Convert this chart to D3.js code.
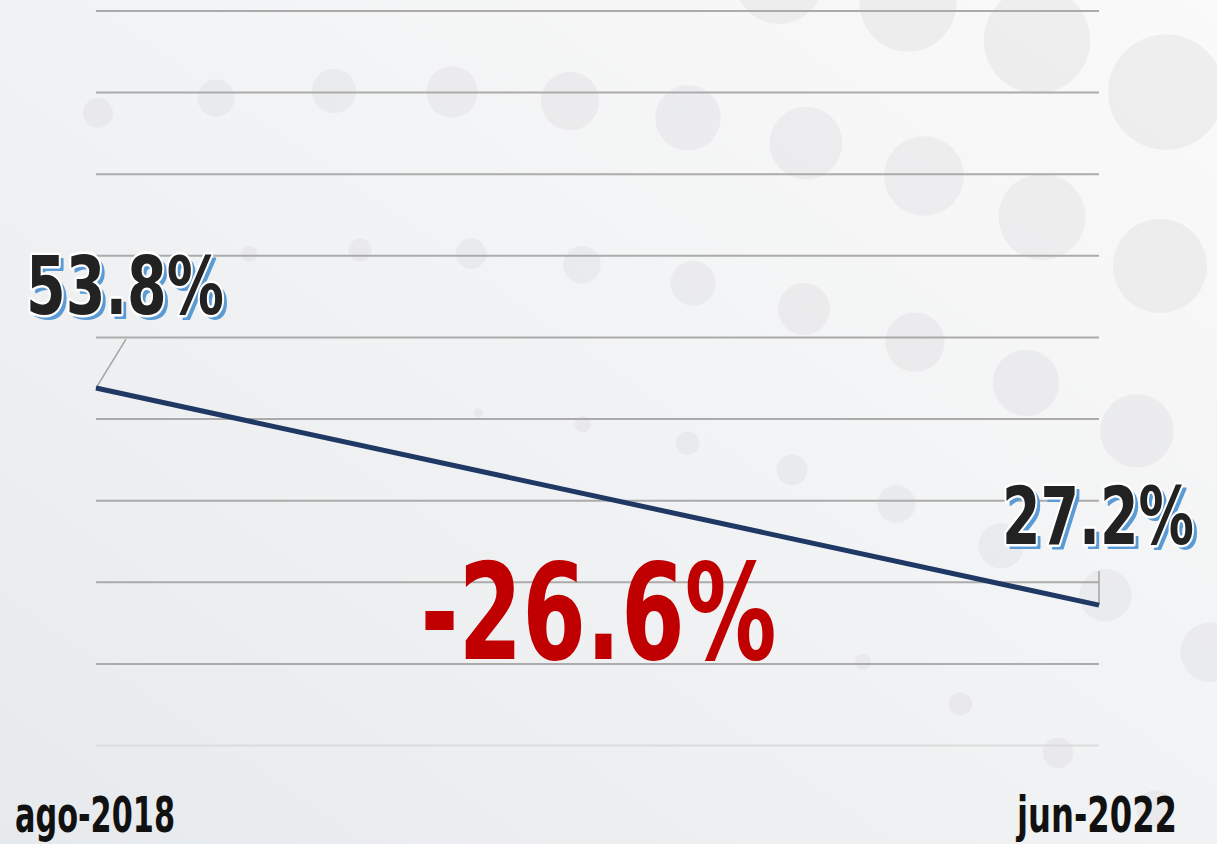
<!DOCTYPE html>
<html>
<head>
<meta charset="utf-8">
<script src="https://cdn.jsdelivr.net/npm/d3@7"></script>
<style>
  html, body { margin: 0; padding: 0; overflow: hidden; }
  svg { display: block; }
</style>
</head>
<body>
<div id="chart"></div>
<script>
'use strict'

// data
const periods = ['ago-2018', 'jun-2022']
const values = [53.8, 27.2]
const gridValues = [10, 20, 30, 40, 50, 60, 70, 80, 90, 100]

const width = 1217
const height = 844
const font = "'Liberation Sans Narrow', 'DejaVu Sans Condensed', 'Roboto', sans-serif"

const svg = d3.select('#chart')
  .append('svg')
  .attr('width', width)
  .attr('height', height)

// background gradient
const defs = svg.append('defs')
const grad = defs.append('linearGradient')
  .attr('id', 'bg')
  .attr('x1', '0').attr('y1', '1')
  .attr('x2', '1').attr('y2', '0')
grad.append('stop').attr('offset', '0%').attr('stop-color', '#e7eaed')
grad.append('stop').attr('offset', '60%').attr('stop-color', '#f3f4f5')
grad.append('stop').attr('offset', '100%').attr('stop-color', '#fafafa')

svg.append('rect')
  .attr('width', width)
  .attr('height', height)
  .attr('fill', 'url(#bg)')

// decorative dots, rows of growing circles
const dotRows = [
  { x0: 779, dx: 129, y0: -20, a: 15.8, b: 7.2, r0: 44, dr: 4.6, n: 4, i0: 0 },
  { x0: 98, dx: 118, y0: 113, a: -19, b: 4, r0: 15, dr: 3.55, n: 10, i0: -1 },
  { x0: 249, dx: 111, y0: 254, a: -7.5, b: 3.7, r0: 8, dr: 3.6, n: 9, i0: 0 },
  { x0: 374, dx: 104.5, y0: 409, a: 0, b: 3.8, r0: 1, dr: 3.6, n: 9, i0: 0 },
  { x0: 863, dx: 97.5, y0: 662, a: 38.5, b: 3.5, r0: 8, dr: 3.6, n: 4, i0: 0 }
]
const dots = []
dotRows.forEach(row => {
  for (let i = row.i0; i < row.n; i++) {
    dots.push({
      x: row.x0 + i * row.dx,
      y: row.y0 + row.a * i + row.b * i * i,
      r: Math.max(1, row.r0 + row.dr * i)
    })
  }
})

svg.append('g')
  .selectAll('circle')
  .data(dots)
  .join('circle')
  .attr('cx', d => d.x)
  .attr('cy', d => d.y)
  .attr('r', d => d.r)
  .attr('fill', '#d9dadd')
  .attr('fill-opacity', 0.35)

// scales
const x = d3.scalePoint()
  .domain(periods)
  .range([96, 1099])

const y = d3.scaleLinear()
  .domain([10, 100])
  .range([745.5, 11])

// grid lines
svg.append('g')
  .selectAll('line')
  .data(gridValues)
  .join('line')
  .attr('x1', x.range()[0])
  .attr('x2', x.range()[1])
  .attr('y1', d => y(d))
  .attr('y2', d => y(d))
  .attr('stroke', d => d === 10 ? '#dcdcdc' : '#ababab')
  .attr('stroke-width', 2)

// connectors from labels to the points
const p0 = [x(periods[0]), y(values[0])]
const p1 = [x(periods[1]), y(values[1])]

svg.append('line')
  .attr('x1', p0[0]).attr('y1', p0[1])
  .attr('x2', p0[0] + 30).attr('y2', p0[1] - 49)
  .attr('stroke', '#a3a3a3')
  .attr('stroke-width', 1.5)

svg.append('line')
  .attr('x1', p1[0]).attr('y1', p1[1])
  .attr('x2', p1[0]).attr('y2', p1[1] - 34)
  .attr('stroke', '#a3a3a3')
  .attr('stroke-width', 1.5)

// the line itself
const line = d3.line()
  .x((d, i) => x(periods[i]))
  .y(d => y(d))

svg.append('path')
  .datum(values)
  .attr('d', line)
  .attr('fill', 'none')
  .attr('stroke', '#1f3864')
  .attr('stroke-width', 5)

// value labels with outline + blue shadow
const fmt = d => d3.format('.1f')(d).replace('\u2212', '-') + '%'
const valueLabels = [
  { text: fmt(values[0]), x: p0[0] - 70, y: p0[1] - 74, len: 198 },
  { text: fmt(values[1]), x: p1[0] - 97, y: p1[1] - 61, len: 192 }
]

valueLabels.forEach(l => {
  const g = svg.append('g')
  g.append('text')
    .attr('x', l.x + 4)
    .attr('y', l.y + 4)
    .attr('textLength', l.len)
    .attr('lengthAdjust', 'spacingAndGlyphs')
    .attr('font-family', font)
    .attr('font-weight', 'bold')
    .attr('font-size', 80)
    .attr('fill', '#5b9bd5')
    .attr('stroke', '#5b9bd5')
    .attr('stroke-width', 2)
    .attr('stroke-linejoin', 'round')
    .text(l.text)
  g.append('text')
    .attr('x', l.x)
    .attr('y', l.y)
    .attr('textLength', l.len)
    .attr('lengthAdjust', 'spacingAndGlyphs')
    .attr('font-family', font)
    .attr('font-weight', 'bold')
    .attr('font-size', 80)
    .attr('fill', '#222222')
    .attr('stroke', '#ffffff')
    .attr('stroke-width', 5)
    .attr('paint-order', 'stroke')
    .attr('stroke-linejoin', 'round')
    .text(l.text)
})

// change label
svg.append('text')
  .attr('x', (x.range()[0] + x.range()[1]) / 2 + 1)
  .attr('y', y(20) - 5)
  .attr('text-anchor', 'middle')
  .attr('textLength', 356)
  .attr('lengthAdjust', 'spacingAndGlyphs')
  .attr('font-family', font)
  .attr('font-weight', 'bold')
  .attr('font-size', 134)
  .attr('fill', '#c00000')
  .text(fmt(values[1] - values[0]))

// x axis labels
svg.append('g')
  .selectAll('text')
  .data(periods)
  .join('text')
  .attr('x', (d, i) => i === 0 ? 15 : 1177)
  .attr('y', 832)
  .attr('text-anchor', (d, i) => i === 0 ? 'start' : 'end')
  .attr('textLength', 160)
  .attr('lengthAdjust', 'spacingAndGlyphs')
  .attr('font-family', font)
  .attr('font-weight', 'bold')
  .attr('font-size', 49)
  .attr('fill', '#111111')
  .text(d => d)
</script>
</body>
</html>
